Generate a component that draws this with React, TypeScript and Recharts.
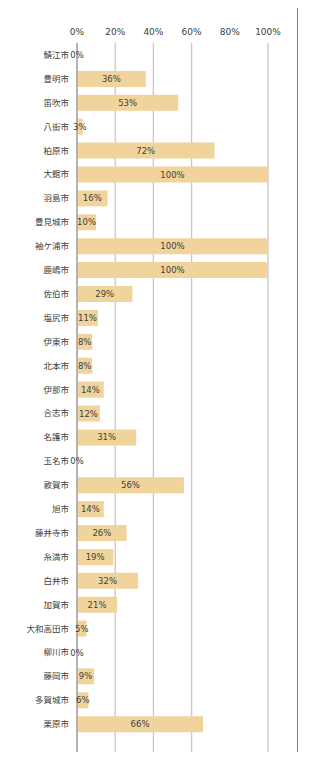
import React from "react";
import { BarChart, Bar, XAxis, YAxis, CartesianGrid, LabelList } from "recharts";

const cities = [
  "鯖江市", "豊明市", "笛吹市", "八街市", "柏原市", "大館市", "羽島市", "豊見城市", "袖ケ浦市", "鹿嶋市",
  "佐伯市", "塩尻市", "伊東市", "北本市", "伊那市", "合志市", "名護市", "玉名市", "敦賀市", "旭市",
  "藤井寺市", "糸満市", "白井市", "加賀市", "大和高田市", "柳川市", "藤岡市", "多賀城市", "栗原市", "",
];
const shares = [
  0, 36, 53, 3, 72, 100, 16, 10, 100, 100,
  29, 11, 8, 8, 14, 12, 31, 0, 56, 14,
  26, 19, 32, 21, 5, 0, 9, 6, 66, null,
];
const xTicks = [0, 20, 40, 60, 80, 100];

const data = cities.map((c, i) => ({ city: c, share: shares[i] }));

const FONT = "'DejaVu Sans', 'Noto Sans CJK JP', sans-serif";
const TEXT = "#404040";

const renderLabel = (props: any) => {
  const { x, y, width, height, value } = props;
  if (value === null || value === undefined) return null;
  return (
    <text
      x={Number(x) + Number(width) / 2}
      y={Number(y) + Number(height) / 2}
      textAnchor="middle"
      dominantBaseline="central"
      fontSize={8.5}
      fill={TEXT}
      fontFamily={FONT}
    >
      {`${value}%`}
    </text>
  );
};

export default function App() {
  return (
    <div style={{ position: "relative", width: 311, height: 760, margin: -8, background: "#fff", overflow: "hidden" }}>
      <BarChart
        width={311}
        height={760}
        data={data}
        layout="vertical"
        margin={{ top: 0, right: 43, bottom: 0, left: 0 }}
        barSize={16}
      >
        <CartesianGrid horizontal={false} stroke="#c8c8c8" strokeWidth={1.3} />
        <XAxis
          type="number"
          orientation="top"
          domain={[0, 100]}
          ticks={xTicks}
          tickFormatter={(v: number) => `${v}%`}
          axisLine={false}
          tickLine={false}
          tick={{ fontSize: 9, fill: TEXT, fontFamily: FONT }}
          height={43}
        />
        <YAxis
          type="category"
          dataKey="city"
          width={77}
          axisLine={{ stroke: "#a6a6a6", strokeWidth: 1.5 }}
          tickLine={false}
          interval={0}
          tick={{ fontSize: 8.5, fill: TEXT, fontFamily: "'Noto Sans CJK JP', sans-serif" }}
        />
        <Bar dataKey="share" fill="#F0D49B" minPointSize={0.01} isAnimationActive={false}>
          <LabelList dataKey="share" content={renderLabel} />
        </Bar>
      </BarChart>
      <div style={{ position: "absolute", left: 297, top: 0, width: 1, height: 760, background: "#808080" }} />
      <span style={{ position: "absolute", left: -6, top: 25, fontSize: 9, color: TEXT, fontFamily: FONT }}>%</span>
    </div>
  );
}
